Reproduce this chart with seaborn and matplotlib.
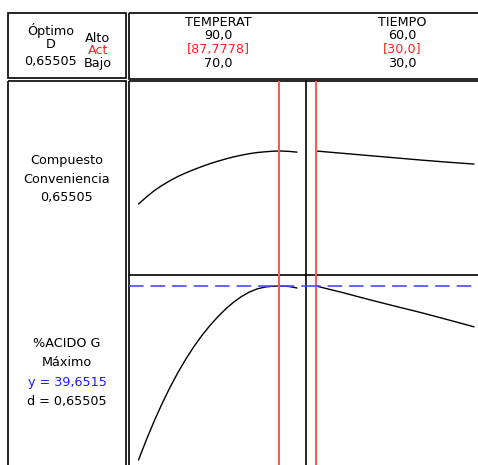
import matplotlib
matplotlib.use("Agg")
import matplotlib.pyplot as plt
from matplotlib.patches import Rectangle
from matplotlib.lines import Line2D
import seaborn as sns

# ---- optimizer data ----
factors = ["TEMPERAT", "TIEMPO"]
factor_high = ["90,0", "60,0"]
factor_act = ["[87,7778]", "[30,0]"]
factor_low = ["70,0", "30,0"]
opt_settings = [87.7778, 30.0]

opt_d = 0.65505
opt_y = 39.6515

# TEMPERAT profile
temp_grid = [70, 71, 72, 73, 74, 75, 76, 77, 78, 79, 80,
             81, 82, 83, 84, 85, 86, 87, 88, 89, 90]
temp_desir = [0.375, 0.412, 0.446, 0.474, 0.499, 0.521, 0.540, 0.557, 0.573, 0.588, 0.601,
              0.613, 0.624, 0.633, 0.641, 0.647, 0.651, 0.654, 0.655, 0.653, 0.649]
temp_resp = [29.21, 30.43, 31.57, 32.62, 33.59, 34.48, 35.29, 36.02, 36.68, 37.27, 37.80,
             38.27, 38.68, 39.02, 39.29, 39.48, 39.59, 39.64, 39.65, 39.62, 39.53]

# TIEMPO profile
time_grid = [30, 35, 40, 45, 50, 55, 60]
time_desir = [0.655, 0.643, 0.631, 0.619, 0.607, 0.596, 0.586]
time_resp = [39.65, 39.26, 38.84, 38.44, 38.05, 37.63, 37.20]

sns.set_style("white")
plt.rcParams["font.family"] = ["DejaVu Sans"]
plt.rcParams["text.color"] = "black"
plt.rcParams["lines.scale_dashes"] = False

W, H = 478, 465
fig = plt.figure(figsize=(W / 100, H / 100), dpi=100)
fig.patch.set_facecolor("white")

# background layer in pixel coordinates for the frame and labels
bg = fig.add_axes([0, 0, 1, 1])
bg.set_xlim(0, W)
bg.set_ylim(H, 0)
bg.axis("off")

lw_frame = 1.2
def box(x0, y0, x1, y1):
    bg.add_patch(Rectangle((x0, y0), x1 - x0, y1 - y0, fill=False,
                           edgecolor="black", linewidth=lw_frame))

box(8, 13, 126, 78)      # header: optimum cell
box(129, 13, 495, 79)    # header: factor settings
box(8, 81, 126, 480)     # response labels column
box(129, 81, 495, 480)   # profile plots
bg.add_line(Line2D([306, 306], [81, 480], color="black", linewidth=lw_frame))
bg.add_line(Line2D([129, 495], [275, 275], color="black", linewidth=lw_frame))

fs = 9.2
# optimum cell
bg.text(51, 30, "Óptimo", ha="center", va="center", fontsize=fs)
bg.text(51, 45, "D", ha="center", va="center", fontsize=fs)
bg.text(51, 61, "0,65505", ha="center", va="center", fontsize=fs)
bg.text(98, 38, "Alto", ha="center", va="center", fontsize=fs)
bg.text(98, 51, "Act", ha="center", va="center", fontsize=fs, color="#ff2020")
bg.text(98, 64, "Bajo", ha="center", va="center", fontsize=fs)

# factor headers
centers = [218, 402]
for cx, name, hi, act, lo in zip(centers, factors, factor_high, factor_act, factor_low):
    bg.text(cx, 22, name, ha="center", va="center", fontsize=fs)
    bg.text(cx, 36, hi, ha="center", va="center", fontsize=fs)
    bg.text(cx, 50, act, ha="center", va="center", fontsize=fs, color="#ff2020")
    bg.text(cx, 63, lo, ha="center", va="center", fontsize=fs)

# response labels
bg.text(67, 160, "Compuesto", ha="center", va="center", fontsize=fs)
bg.text(67, 179, "Conveniencia", ha="center", va="center", fontsize=fs)
bg.text(67, 197, "0,65505", ha="center", va="center", fontsize=fs)
bg.text(67, 343, "%ACIDO G", ha="center", va="center", fontsize=fs)
bg.text(67, 362, "Máximo", ha="center", va="center", fontsize=fs)
bg.text(67, 382, "y = 39,6515", ha="center", va="center", fontsize=fs, color="#1a1aff")
bg.text(67, 401, "d = 0,65505", ha="center", va="center", fontsize=fs)

def add_ax(x0, x1, y0, y1):
    ax = fig.add_axes([x0 / W, (H - y1) / H, (x1 - x0) / W, (y1 - y0) / H])
    ax.patch.set_alpha(0)
    ax.axis("off")
    return ax

temp_xlim = (68.801, 91.136)
time_xlim = (28.10, 64.555)
d_ylim = (0.0, 1.0248)
y_ylim = (28.31, 40.31)

red = "#ff5a5a"
blue = "#4a4aff"

panels = [
    (129, 306, 81, 275, temp_grid, temp_desir, temp_xlim, d_ylim, opt_settings[0], False),
    (306, 498, 81, 275, time_grid, time_desir, time_xlim, d_ylim, opt_settings[1], False),
    (129, 306, 275, 475, temp_grid, temp_resp, temp_xlim, y_ylim, opt_settings[0], True),
    (306, 498, 275, 475, time_grid, time_resp, time_xlim, y_ylim, opt_settings[1], True),
]
for x0, x1, y0, y1, xs, ys, xl, yl, xopt, is_resp in panels:
    ax = add_ax(x0, x1, y0, y1)
    sns.lineplot(x=xs, y=ys, ax=ax, color="black", linewidth=1.0)
    ax.axvline(xopt, color=red, linewidth=1.5)
    if is_resp:
        ax.axhline(opt_y, color=blue, linewidth=1.2, linestyle=(0, (10.5, 5.0)))
    ax.set_xlim(*xl)
    ax.set_ylim(*yl)
    ax.axis("off")

fig.savefig("out.png", dpi=100)
